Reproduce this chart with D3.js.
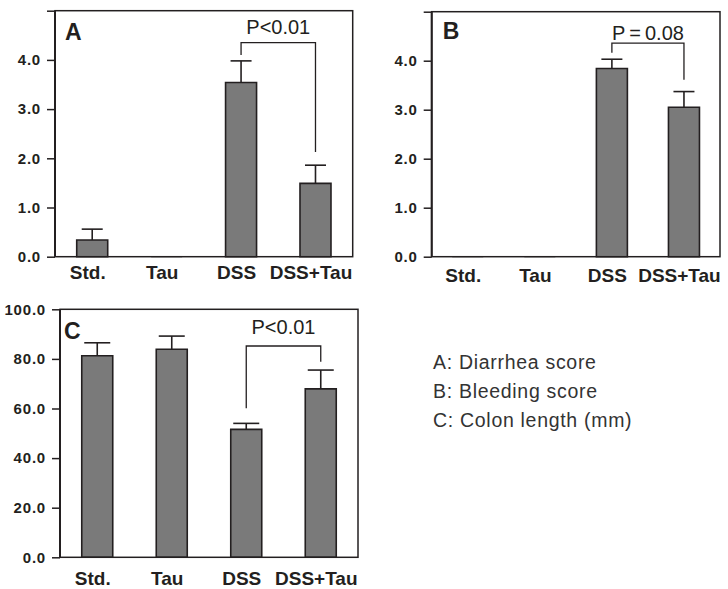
<!DOCTYPE html>
<html><head>
<meta charset="utf-8">
<title>DSS colitis - taurine</title>
<script src="https://cdn.jsdelivr.net/npm/d3@7"></script>
<style>
  body { margin: 0; background: #fff; }
  svg text { font-family: "Liberation Sans", Arial, Helvetica, sans-serif; fill: #231f20; }
</style>
</head>
<body>
<svg id="chart" width="728" height="589"></svg>
<script>
// groups on the x axis
const categories = ["Std.", "Tau", "DSS", "DSS+Tau"];

// A: diarrhea score (mean and upper error)
const diarrheaMean = [0.34, 0, 3.54, 1.49];
const diarrheaSD = [0.22, 0, 0.44, 0.37];
// B: bleeding score
const bleedingMean = [0, 0, 3.84, 3.05];
const bleedingSD = [0, 0, 0.19, 0.32];
// C: colon length (mm)
const colonMean = [81.3, 83.9, 51.6, 67.9];
const colonSD = [5.2, 5.3, 2.4, 7.6];

// y ticks and their labels
const scoreTicks = [0, 1, 2, 3, 4, 5];
const scoreTickLabels = ["0.0", "1.0", "2.0", "3.0", "4.0", ""];
const lengthTicks = [0, 20, 40, 60, 80, 100];
const lengthTickLabels = ["0.0", "20.0", "40.0", "60.0", "80.0", "100.0"];

// significance brackets DSS vs DSS+Tau: [bar level, left leg end, right leg end]
const pTexts = ["P<0.01", "P\u2009=\u20090.08", "P<0.01"];
const bracketA = [4.35, 4.10, 2.13];
const bracketB = [4.36, 4.16, 3.61];
const bracketC = [85.2, 60.1, 78.9];

const legendLines = ["A: Diarrhea score", "B: Bleeding score", "C: Colon length (mm)"];

let svg = d3.select("#chart");
const ink = "#231f20";
const barW = 31;

// one panel = frame, axis, bars, error bars, bracket
function drawPanel(p) {
  let g = svg.append("g");

  let x = d3.scalePoint().domain(categories).range([p.x0, p.x1]).padding(0.5);
  let y = d3.scaleLinear().domain([0, p.ymax]).range([p.bottom, p.top]);

  // bars (path so zero values still show as a line on the baseline)
  g.selectAll("path.bar")
      .data(p.mean)
      .enter().append("path")
      .attr("class", "bar")
      .attr("d", (d, i) => {
        let cx = x(categories[i]);
        return "M" + (cx - barW / 2) + "," + p.bottom + "V" + y(d) + "H" + (cx + barW / 2) + "V" + p.bottom + "Z";
      })
      .style("fill", "#7a7a7a")
      .style("stroke", (d) => d > 0 ? ink : "#9a9a9a")
      .style("stroke-width", 1.6);

  // upper error bars
  p.mean.forEach(function(d, i) {
    if (p.sd[i] <= 0) return;
    let cx = x(categories[i]);
    g.append("line")
        .attr("x1", cx).attr("x2", cx)
        .attr("y1", y(d)).attr("y2", y(d + p.sd[i]))
        .style("stroke", ink).style("stroke-width", 1.6);
    g.append("line")
        .attr("x1", cx - p.capW / 2).attr("x2", cx + p.capW / 2)
        .attr("y1", y(d + p.sd[i])).attr("y2", y(d + p.sd[i]))
        .style("stroke", ink).style("stroke-width", 1.6);
  });

  // frame
  g.append("rect")
      .attr("x", p.x0).attr("y", p.top)
      .attr("width", p.x1 - p.x0).attr("height", p.bottom - p.top)
      .style("fill", "none").style("stroke", ink).style("stroke-width", 1.5);
  g.append("line")
      .attr("x1", p.x0).attr("x2", p.x0).attr("y1", p.top).attr("y2", p.bottom)
      .style("stroke", ink).style("stroke-width", 2);

  // left axis
  let ya = g.append("g")
      .attr("transform", "translate(" + p.x0 + ",0)")
      .call(d3.axisLeft(y).tickValues(p.ticks).tickFormat((d, i) => p.tickLabels[i])
        .tickSize(8).tickPadding(6).tickSizeOuter(0));
  ya.select(".domain").remove();
  ya.selectAll("line").style("stroke", ink).style("stroke-width", 1.5);
  ya.selectAll("text")
      .style("font-size", "15px").style("font-weight", "bold")
      .style("letter-spacing", "0.8px").style("fill", ink);

  // category labels
  let xa = g.append("g")
      .attr("transform", "translate(0," + p.bottom + ")")
      .call(d3.axisBottom(x).tickSize(0).tickPadding(p.labelPad));
  xa.select(".domain").remove();
  xa.selectAll("text")
      .attr("dx", -5)
      .style("font-size", "19px").style("font-weight", "bold").style("fill", ink);

  // panel letter
  g.append("text")
      .attr("x", p.x0 + p.letterDx).attr("y", p.top + p.letterDy)
      .style("font-size", "23px").style("font-weight", "bold")
      .text(p.letter);

  // significance bracket
  let xl = x(categories[2]), xr = x(categories[3]);
  let b = p.bracket;
  g.append("path")
      .attr("d", "M" + xl + "," + y(b[1]) + "V" + y(b[0]) + "H" + xr + "V" + y(b[2]))
      .style("fill", "none").style("stroke", ink).style("stroke-width", 1.3);
  g.append("text")
      .attr("x", (xl + xr) / 2).attr("y", y(b[0]) - p.pGap)
      .attr("text-anchor", "middle")
      .style("font-size", "20px")
      .text(p.pText);
}

drawPanel({ letter: "A", x0: 55, x1: 352.7, top: 10.7, bottom: 256.7, ymax: 5,
  mean: diarrheaMean, sd: diarrheaSD, ticks: scoreTicks, tickLabels: scoreTickLabels,
  capW: 21, labelPad: 9, letterDx: 10, letterDy: 29.3, bracket: bracketA, pText: pTexts[0], pGap: 8.4 });

drawPanel({ letter: "B", x0: 431.7, x1: 720, top: 11.7, bottom: 256.7, ymax: 5,
  mean: bleedingMean, sd: bleedingSD, ticks: scoreTicks, tickLabels: scoreTickLabels,
  capW: 21, labelPad: 11.5, letterDx: 11, letterDy: 27.6, bracket: bracketB, pText: pTexts[1], pGap: 3.3 });

drawPanel({ letter: "C", x0: 60, x1: 358, top: 309.3, bottom: 557.3, ymax: 100,
  mean: colonMean, sd: colonSD, ticks: lengthTicks, tickLabels: lengthTickLabels,
  capW: 26, labelPad: 14, letterDx: 4, letterDy: 30, bracket: bracketC, pText: pTexts[2], pGap: 11.7 });

// legend text
svg.append("g").selectAll("text")
    .data(legendLines)
    .enter().append("text")
    .attr("x", 433)
    .attr("y", (d, i) => 369.3 + i * 29)
    .style("font-size", "19.5px")
    .style("letter-spacing", "0.7px")
    .style("fill", "#333")
    .text(d => d);
</script>
</body>
</html>
